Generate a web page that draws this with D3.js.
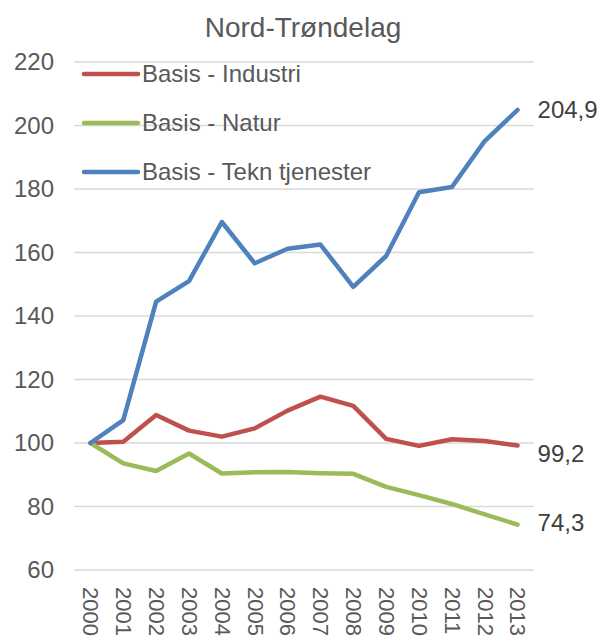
<!DOCTYPE html>
<html>
<head>
<meta charset="utf-8">
<script src="https://cdn.jsdelivr.net/npm/d3@7"></script>
<style>
  body { margin: 0; background: #fff; }
  text { font-family: Arial, "Liberation Sans", sans-serif; fill: #595959; }
</style>
</head>
<body>
<svg id="chart" width="599" height="637"></svg>
<script>
const years = ["2000", "2001", "2002", "2003", "2004", "2005", "2006", "2007", "2008", "2009", "2010", "2011", "2012", "2013"];
const industri = [100, 100.4, 108.8, 103.9, 102.0, 104.6, 110.2, 114.6, 111.7, 101.3, 99.1, 101.2, 100.6, 99.2];
const natur = [100, 93.6, 91.2, 96.7, 90.4, 90.8, 90.9, 90.5, 90.3, 86.2, 83.6, 80.8, 77.5, 74.3];
const tekn = [100, 107.2, 144.5, 151.0, 169.6, 156.6, 161.2, 162.5, 149.2, 158.9, 179.0, 180.6, 195.1, 204.9];
const yTicks = [60, 80, 100, 120, 140, 160, 180, 200, 220];

const series = [
  { name: "Basis - Industri", values: industri, color: "#C0504D", label: "99,2", dy: 8 },
  { name: "Basis - Natur", values: natur, color: "#9BBB59", label: "74,3", dy: -2 },
  { name: "Basis - Tekn tjenester", values: tekn, color: "#4F81BD", label: "204,9", dy: 0 }
];

const svg = d3.select("#chart");
const margin = { left: 74, right: 65, top: 62, bottom: 67 };
const width = 599, height = 637;
const fontSize = "24px";

const x = d3.scalePoint()
  .domain(years)
  .range([margin.left, width - margin.right])
  .padding(0.5);

const y = d3.scaleLinear()
  .domain([60, 220])
  .range([height - margin.bottom, margin.top]);

// Title
svg.append("text")
  .attr("x", 303)
  .attr("y", 37)
  .attr("text-anchor", "middle")
  .style("font-size", "28px")
  .text("Nord-Trøndelag");

// Gridlines
svg.append("g")
  .selectAll("line")
  .data(yTicks)
  .join("line")
  .attr("x1", margin.left)
  .attr("x2", width - margin.right)
  .attr("y1", d => y(d))
  .attr("y2", d => y(d))
  .attr("stroke", "#D9D9D9")
  .attr("stroke-width", 1.3);

// Y axis
const yAxis = svg.append("g")
  .attr("transform", `translate(${margin.left - 20},0)`)
  .call(d3.axisLeft(y).tickValues(yTicks).tickSize(0).tickPadding(0));
yAxis.select(".domain").remove();
yAxis.selectAll("text")
  .style("font-size", fontSize)
  .style("fill", "#595959")
  .style("font-family", "Arial, 'Liberation Sans', sans-serif");

// X axis (rotated labels)
const xAxis = svg.append("g")
  .attr("transform", `translate(0,${height - margin.bottom + 17})`)
  .call(d3.axisBottom(x).tickSize(0).tickPadding(0));
xAxis.select(".domain").remove();
xAxis.selectAll("text")
  .attr("transform", "rotate(90)")
  .attr("x", 0)
  .attr("y", 0)
  .attr("dy", "0.35em")
  .attr("text-anchor", "start")
  .style("font-size", "22px")
  .style("fill", "#595959")
  .style("font-family", "Arial, 'Liberation Sans', sans-serif");

// Lines
const line = d3.line()
  .x((d, i) => x(years[i]))
  .y(d => y(d));

svg.append("g")
  .selectAll("path")
  .data(series)
  .join("path")
  .attr("d", d => line(d.values))
  .attr("fill", "none")
  .attr("stroke", d => d.color)
  .attr("stroke-width", 4.5)
  .attr("stroke-linejoin", "round")
  .attr("stroke-linecap", "round");

// End labels
svg.append("g")
  .selectAll("text")
  .data(series)
  .join("text")
  .attr("x", x(years[years.length - 1]) + 20)
  .attr("y", d => y(d.values[d.values.length - 1]) + d.dy)
  .attr("dy", "0.35em")
  .style("font-size", fontSize)
  .style("fill", "#404040")
  .text(d => d.label);

// Legend
const legend = svg.append("g")
  .selectAll("g")
  .data(series)
  .join("g")
  .attr("transform", (d, i) => `translate(84,${74 + i * 49})`);

legend.append("line")
  .attr("x1", 0)
  .attr("x2", 54)
  .attr("stroke", d => d.color)
  .attr("stroke-width", 4.5)
  .attr("stroke-linecap", "round");

legend.append("text")
  .attr("x", 58)
  .attr("dy", "0.35em")
  .style("font-size", fontSize)
  .text(d => d.name);
</script>
</body>
</html>
